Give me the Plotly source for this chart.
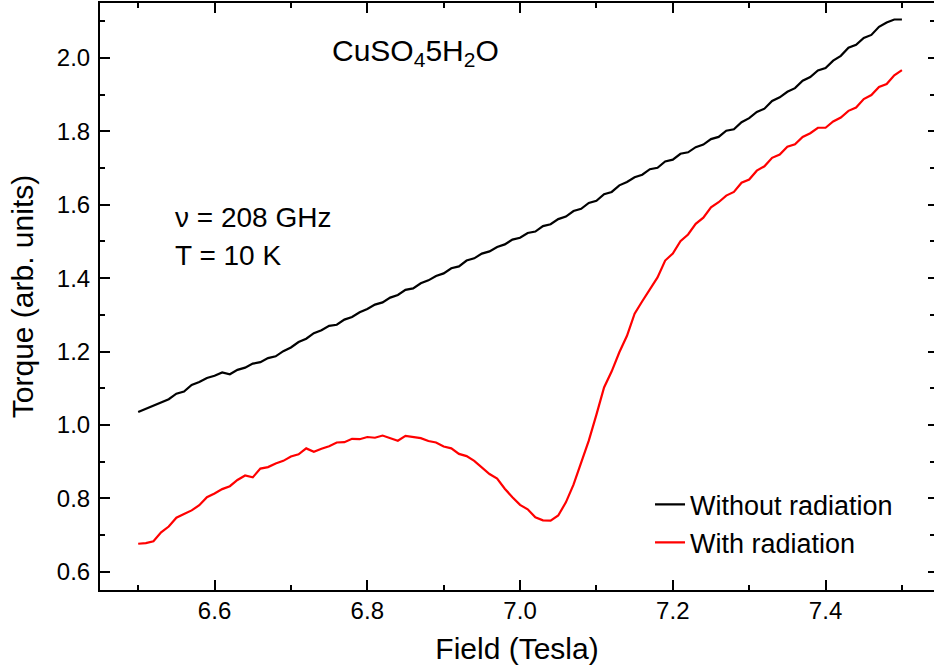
import plotly.graph_objects as go

field = [6.50, 6.51, 6.52, 6.53, 6.54, 6.55, 6.56, 6.57, 6.58, 6.59,
         6.60, 6.61, 6.62, 6.63, 6.64, 6.65, 6.66, 6.67, 6.68, 6.69,
         6.70, 6.71, 6.72, 6.73, 6.74, 6.75, 6.76, 6.77, 6.78, 6.79,
         6.80, 6.81, 6.82, 6.83, 6.84, 6.85, 6.86, 6.87, 6.88, 6.89,
         6.90, 6.91, 6.92, 6.93, 6.94, 6.95, 6.96, 6.97, 6.98, 6.99,
         7.00, 7.01, 7.02, 7.03, 7.04, 7.05, 7.06, 7.07, 7.08, 7.09,
         7.10, 7.11, 7.12, 7.13, 7.14, 7.15, 7.16, 7.17, 7.18, 7.19,
         7.20, 7.21, 7.22, 7.23, 7.24, 7.25, 7.26, 7.27, 7.28, 7.29,
         7.30, 7.31, 7.32, 7.33, 7.34, 7.35, 7.36, 7.37, 7.38, 7.39,
         7.40, 7.41, 7.42, 7.43, 7.44, 7.45, 7.46, 7.47, 7.48, 7.49,
         7.50]

torque_without = [1.035, 1.044, 1.051, 1.060, 1.070, 1.085, 1.091, 1.109, 1.117, 1.128,
                  1.134, 1.143, 1.138, 1.150, 1.156, 1.167, 1.171, 1.182, 1.187, 1.201,
                  1.211, 1.226, 1.235, 1.250, 1.258, 1.270, 1.273, 1.287, 1.294, 1.307,
                  1.316, 1.328, 1.334, 1.347, 1.354, 1.368, 1.372, 1.386, 1.394, 1.406,
                  1.413, 1.427, 1.432, 1.448, 1.454, 1.467, 1.473, 1.485, 1.492, 1.505,
                  1.510, 1.523, 1.527, 1.542, 1.547, 1.561, 1.568, 1.583, 1.589, 1.605,
                  1.611, 1.629, 1.635, 1.653, 1.662, 1.675, 1.682, 1.697, 1.701, 1.718,
                  1.723, 1.739, 1.743, 1.757, 1.764, 1.779, 1.785, 1.802, 1.806, 1.825,
                  1.836, 1.853, 1.862, 1.883, 1.893, 1.908, 1.918, 1.938, 1.948, 1.966,
                  1.973, 1.993, 2.006, 2.028, 2.036, 2.055, 2.063, 2.085, 2.097, 2.105,
                  2.105]

torque_with = [0.676, 0.678, 0.683, 0.707, 0.723, 0.747, 0.757, 0.767, 0.781, 0.803,
               0.813, 0.825, 0.833, 0.850, 0.862, 0.857, 0.881, 0.885, 0.895, 0.902,
               0.914, 0.920, 0.936, 0.927, 0.935, 0.942, 0.952, 0.953, 0.962, 0.961,
               0.967, 0.965, 0.971, 0.963, 0.957, 0.970, 0.966, 0.964, 0.956, 0.952,
               0.941, 0.936, 0.921, 0.915, 0.902, 0.883, 0.866, 0.854, 0.826, 0.803,
               0.782, 0.770, 0.748, 0.740, 0.739, 0.753, 0.789, 0.837, 0.898, 0.957,
               1.028, 1.102, 1.146, 1.198, 1.243, 1.303, 1.337, 1.368, 1.402, 1.448,
               1.467, 1.501, 1.519, 1.548, 1.565, 1.593, 1.607, 1.625, 1.635, 1.660,
               1.669, 1.693, 1.705, 1.728, 1.737, 1.758, 1.765, 1.785, 1.795, 1.810,
               1.810, 1.827, 1.838, 1.856, 1.865, 1.888, 1.899, 1.921, 1.929, 1.953,
               1.967]

series_names = ["Without radiation", "With radiation"]
series_colors = ["#000000", "#ff0000"]

x_ticks = [6.6, 6.8, 7.0, 7.2, 7.4]
x_ticklabels = ["6.6", "6.8", "7.0", "7.2", "7.4"]
y_ticks = [0.6, 0.8, 1.0, 1.2, 1.4, 1.6, 1.8, 2.0]
y_ticklabels = ["0.6", "0.8", "1.0", "1.2", "1.4", "1.6", "1.8", "2.0"]

FONT = "Arial, Liberation Sans, sans-serif"

fig = go.Figure()
for name, ys, col in zip(series_names, [torque_without, torque_with], series_colors):
    fig.add_trace(go.Scatter(x=field, y=ys, mode="lines", name=name,
                             line=dict(color=col, width=2.2)))
# helper (empty) trace for right-side inner ticks
fig.add_trace(go.Scatter(x=[], y=[], yaxis="y2", showlegend=False, hoverinfo="skip"))

axis_common = dict(
    ticks="inside", ticklen=10, tickwidth=2, tickcolor="black",
    showline=True, linewidth=2, linecolor="black",
    showgrid=False, zeroline=False, automargin=False,
    tickfont=dict(family=FONT, size=24, color="black"),
)

fig.update_layout(
    width=934, height=670,
    margin=dict(l=100, r=0, t=3, b=80),
    paper_bgcolor="white", plot_bgcolor="white",
    font=dict(family=FONT, color="black"),
    xaxis=dict(
        range=[6.45, 7.542], tickvals=x_ticks, ticktext=x_ticklabels,
        mirror="ticks", ticklabelstandoff=-2,
        minor=dict(dtick=0.1, tick0=6.5, ticks="inside", ticklen=5, tickwidth=2, tickcolor="black"),
        title=dict(text="Field (Tesla)", font=dict(family=FONT, size=30, color="black"), standoff=15),
        **axis_common,
    ),
    yaxis=dict(
        range=[0.55, 2.15], tickvals=y_ticks, ticktext=y_ticklabels,
        ticklabelstandoff=3,
        minor=dict(dtick=0.1, tick0=0.5, ticks="inside", ticklen=5, tickwidth=2, tickcolor="black"),
        title=dict(text="Torque (arb. units)", font=dict(family=FONT, size=30, color="black"), standoff=14),
        **axis_common,
    ),
    yaxis2=dict(
        overlaying="y", side="right", range=[0.55, 2.15], tickvals=y_ticks,
        showticklabels=False, ticks="inside", ticklen=6, tickwidth=2, tickcolor="black",
        showline=False, showgrid=False, zeroline=False, automargin=False,
        minor=dict(dtick=0.1, tick0=0.5, ticks="inside", ticklen=4, tickwidth=2, tickcolor="black"),
    ),
    legend=dict(
        x=0.6595, y=0.187, xanchor="left", yanchor="top",
        bgcolor="rgba(0,0,0,0)", borderwidth=0,
        font=dict(family=FONT, size=27, color="black"),
        tracegroupgap=0,
    ),
    showlegend=True,
)

fig.add_annotation(text="CuSO<sub>4</sub>5H<sub>2</sub>O", xref="paper", yref="paper",
                   x=(330 - 100) / 834, y=(589.6 - 52) / 586.6, xanchor="left", yanchor="middle",
                   showarrow=False, font=dict(family=FONT, size=30, color="black"))
fig.add_annotation(text="ν = 208 GHz", xref="paper", yref="paper",
                   x=(173 - 100) / 834, y=(589.6 - 217) / 586.6, xanchor="left", yanchor="middle",
                   showarrow=False, font=dict(family=FONT, size=28, color="black"))
fig.add_annotation(text="T = 10 K", xref="paper", yref="paper",
                   x=(173 - 100) / 834, y=(589.6 - 255) / 586.6, xanchor="left", yanchor="middle",
                   showarrow=False, font=dict(family=FONT, size=28, color="black"))

fig.write_html("out.html", config={"displayModeBar": False},
               post_script="document.body.style.margin='0px';document.body.style.overflow='hidden';")
